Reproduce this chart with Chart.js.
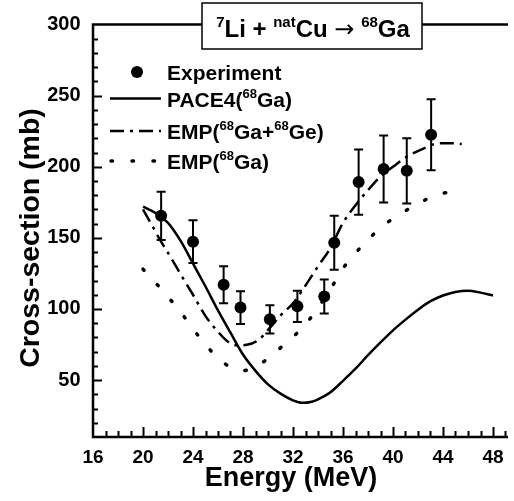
<!DOCTYPE html>
<html>
<head>
<meta charset="utf-8">
<script src="https://cdn.jsdelivr.net/npm/chart.js@4.4.0/dist/chart.umd.min.js"></script>
<style>
  html, body { margin: 0; padding: 0; background: #fff; }
  #wrap { width: 514px; height: 501px; position: relative; }
</style>
</head>
<body>
<div id="wrap"><canvas id="chart"></canvas></div>
<script>
// -----------------------------
// Data
// -----------------------------
const expEnergy = [21.45, 24.0, 26.45, 27.8, 30.15, 32.35, 34.5, 35.3, 37.25, 39.25, 41.1, 43.05];
const expValue  = [165.5, 147.3, 117, 101, 92.7, 101.9, 108.8, 146.5, 189.2, 198.4, 197.1, 222.5];
const expError  = [17, 15, 13, 11.5, 10, 11, 12, 19, 23, 23.5, 23, 25];

const paceEnergy = [20, 21, 22, 23, 24, 25, 26, 27, 28, 29, 30, 31, 32, 32.7, 33.5, 34, 35, 36, 37, 38, 39, 40, 41, 42, 43, 44, 45, 46, 47, 48];
const paceValue  = [172, 167.5, 160.5, 148, 132, 115.8, 99, 83.3, 68, 56.5, 47, 40.5, 35.8, 34, 34.8, 36.5, 41.5, 49.5, 58, 67.5, 76.5, 85, 92.5, 99.5, 105.5, 109.5, 112, 112.8, 111.5, 109.5];

const empSumEnergy = [20, 20.8, 21.4, 22.2, 23, 24, 25, 26, 26.8, 27.5, 28.3, 29.2, 30.2, 31, 32, 33, 34, 35, 36, 37, 38, 39, 40.2, 41.1, 42.2, 43.6, 44.8, 45.5];
const empSumValue  = [170, 157.5, 148, 136.6, 124.5, 110, 95, 84, 77, 74.5, 74.8, 78, 87.3, 95.4, 104, 116.5, 130, 143, 160.5, 173, 183.5, 193, 201.3, 207, 211.8, 216.4, 216.6, 216];

const empGaEnergy = [20, 21, 22, 23, 24, 25, 26, 27, 27.8, 28.5, 29.5, 30.6, 31.9, 33.1, 34, 35, 35.9, 36.8, 37.9, 39, 40.5, 41.9, 43.5, 45.3];
const empGaValue  = [128, 118.5, 108.5, 98, 86, 75, 65.5, 59, 56.5, 57.5, 62, 69.8, 79.5, 90.3, 101, 114, 127.3, 137.3, 147.8, 157, 166.4, 173.4, 180.4, 182.7];

const xTickLabels = [16, 20, 24, 28, 32, 36, 40, 44, 48];
const yTickLabels = [50, 100, 150, 200, 250, 300];

const FONT = '"Liberation Sans", Arial, Helvetica, sans-serif';

function pts(xs, ys) {
    return xs.map((v, i) => ({ x: v, y: ys[i] }));
}

// texte avec exposants : [texte, sup?, police spéciale?]
function drawRich(ctx, parts, x, y, size, align) {
    const supSize = Math.round(size * 0.62);
    const fontOf = p => p[2] ? p[2] : 'bold ' + (p[1] ? supSize : size) + 'px ' + FONT;
    let total = 0;
    parts.forEach(p => { ctx.font = fontOf(p); total += ctx.measureText(p[0]).width; });
    let cx = align === 'center' ? x - total / 2 : x;
    ctx.textAlign = 'left';
    ctx.textBaseline = 'alphabetic';
    parts.forEach(p => {
        ctx.font = fontOf(p);
        ctx.fillText(p[0], cx, p[1] ? y - size * 0.42 : y);
        cx += ctx.measureText(p[0]).width;
    });
}

const decorPlugin = {
    id: 'decor',
    afterDatasetsDraw(chart) {
        const { ctx, chartArea: a, scales: { x, y } } = chart;
        ctx.save();
        ctx.strokeStyle = '#000';
        ctx.fillStyle = '#000';

        // barres d'erreur
        ctx.lineWidth = 2;
        expEnergy.forEach((e, i) => {
            const px = x.getPixelForValue(e);
            const top = y.getPixelForValue(expValue[i] + expError[i]);
            const bot = y.getPixelForValue(expValue[i] - expError[i]);
            ctx.beginPath();
            ctx.moveTo(px, top); ctx.lineTo(px, bot);
            ctx.moveTo(px - 4.5, top); ctx.lineTo(px + 4.5, top);
            ctx.moveTo(px - 4.5, bot); ctx.lineTo(px + 4.5, bot);
            ctx.stroke();
        });

        // axes
        ctx.lineWidth = 2.5;
        ctx.beginPath();
        ctx.moveTo(a.right, a.top); ctx.lineTo(a.left, a.top);
        ctx.lineTo(a.left, a.bottom); ctx.lineTo(a.right, a.bottom);
        ctx.stroke();

        // graduations vers l'intérieur
        ctx.lineWidth = 2;
        ctx.beginPath();
        for (let v = 20; v < 300; v += 10) {
            const py = Math.round(y.getPixelForValue(v)) + 0.5;
            const len = v % 50 === 0 ? 9 : 5;
            ctx.moveTo(a.left, py); ctx.lineTo(a.left + len, py);
        }
        for (let v = 17; v <= 49; v += 1) {
            const px = Math.round(x.getPixelForValue(v)) + 0.5;
            const len = v % 4 === 0 ? 10 : 6;
            ctx.moveTo(px, a.bottom); ctx.lineTo(px, a.bottom - len);
        }
        ctx.stroke();

        // titres des axes
        ctx.textAlign = 'center';
        ctx.textBaseline = 'alphabetic';
        ctx.font = 'bold 27px ' + FONT;
        ctx.fillText('Energy (MeV)', 291, 486);
        ctx.save();
        ctx.translate(39, 238);
        ctx.rotate(-Math.PI / 2);
        ctx.font = 'bold 28.5px ' + FONT;
        ctx.fillText('Cross-section (mb)', 0, 0);
        ctx.restore();

        // encadré du titre
        ctx.fillStyle = '#fff';
        ctx.fillRect(202, 3, 220, 46);
        ctx.lineWidth = 1.5;
        ctx.strokeRect(202, 3, 220, 46);
        ctx.fillStyle = '#000';
        drawRich(ctx, [['7', true], ['Li + ', false], ['nat', true], ['Cu ', false],
            ['\u2192', false, '24px "DejaVu Sans", sans-serif'], [' ', false], ['68', true], ['Ga', false]],
            313, 37, 24, 'center');

        // légende
        const lx = 167;
        ctx.beginPath();
        ctx.arc(137, 72, 6, 0, Math.PI * 2);
        ctx.fill();
        drawRich(ctx, [['Experiment', false]], lx, 79.5, 21);

        ctx.lineWidth = 2.5;
        ctx.setLineDash([]);
        ctx.beginPath(); ctx.moveTo(110, 98.5); ctx.lineTo(161, 98.5); ctx.stroke();
        drawRich(ctx, [['PACE4(', false], ['68', true], ['Ga)', false]], lx, 106.5, 21);

        ctx.setLineDash([14, 6, 3, 6]);
        ctx.beginPath(); ctx.moveTo(110, 131); ctx.lineTo(161, 131); ctx.stroke();
        drawRich(ctx, [['EMP(', false], ['68', true], ['Ga+', false], ['68', true], ['Ge)', false]], lx, 138.5, 21);

        ctx.lineWidth = 3.5;
        ctx.lineCap = 'round';
        ctx.setLineDash([1.5, 19.5]);
        ctx.beginPath(); ctx.moveTo(111, 161); ctx.lineTo(161, 161); ctx.stroke();
        drawRich(ctx, [['EMP(', false], ['68', true], ['Ga)', false]], lx, 168.5, 21);

        ctx.restore();
    }
};

const ctx = document.getElementById('chart');
new Chart(ctx, {
    type: 'scatter',
    data: {
        datasets: [
            {
                label: 'PACE4(68Ga)',
                data: pts(paceEnergy, paceValue),
                showLine: true,
                borderColor: '#000',
                borderWidth: 2.5,
                pointRadius: 0,
                cubicInterpolationMode: 'monotone'
            },
            {
                label: 'EMP(68Ga+68Ge)',
                data: pts(empSumEnergy, empSumValue),
                showLine: true,
                borderColor: '#000',
                borderWidth: 2.5,
                borderDash: [14, 6, 3, 6],
                pointRadius: 0,
                cubicInterpolationMode: 'monotone'
            },
            {
                label: 'EMP(68Ga)',
                data: pts(empGaEnergy, empGaValue),
                showLine: true,
                borderColor: '#000',
                borderWidth: 3.5,
                borderDash: [1.5, 19.5],
                borderCapStyle: 'round',
                pointRadius: 0,
                cubicInterpolationMode: 'monotone'
            },
            {
                label: 'Experiment',
                data: pts(expEnergy, expValue),
                showLine: false,
                pointRadius: 6,
                pointBackgroundColor: '#000',
                pointBorderColor: '#000',
                pointBorderWidth: 0
            }
        ]
    },
    options: {
        responsive: true,
        maintainAspectRatio: false,
        animation: false,
        devicePixelRatio: 1,
        layout: { padding: { top: 22, right: 0, left: 0, bottom: 0 } },
        plugins: {
            legend: { display: false },
            tooltip: { enabled: false }
        },
        scales: {
            x: {
                type: 'linear',
                min: 16,
                max: 49.2,
                afterBuildTicks: s => { s.ticks = xTickLabels.map(v => ({ value: v })); },
                afterFit: s => { s.height = 64; },
                grid: { display: false, drawTicks: false },
                border: { display: false },
                ticks: {
                    color: '#000',
                    padding: 9,
                    maxRotation: 0,
                    font: { family: FONT, size: 19, weight: 'bold' }
                }
            },
            y: {
                type: 'linear',
                min: 10,
                max: 300,
                afterBuildTicks: s => { s.ticks = yTickLabels.map(v => ({ value: v })); },
                afterFit: s => { s.width = 93; },
                grid: { display: false, drawTicks: false },
                border: { display: false },
                ticks: {
                    color: '#000',
                    padding: 12.5,
                    font: { family: FONT, size: 20, weight: 'bold' }
                }
            }
        }
    },
    plugins: [decorPlugin]
});
</script>
</body>
</html>
